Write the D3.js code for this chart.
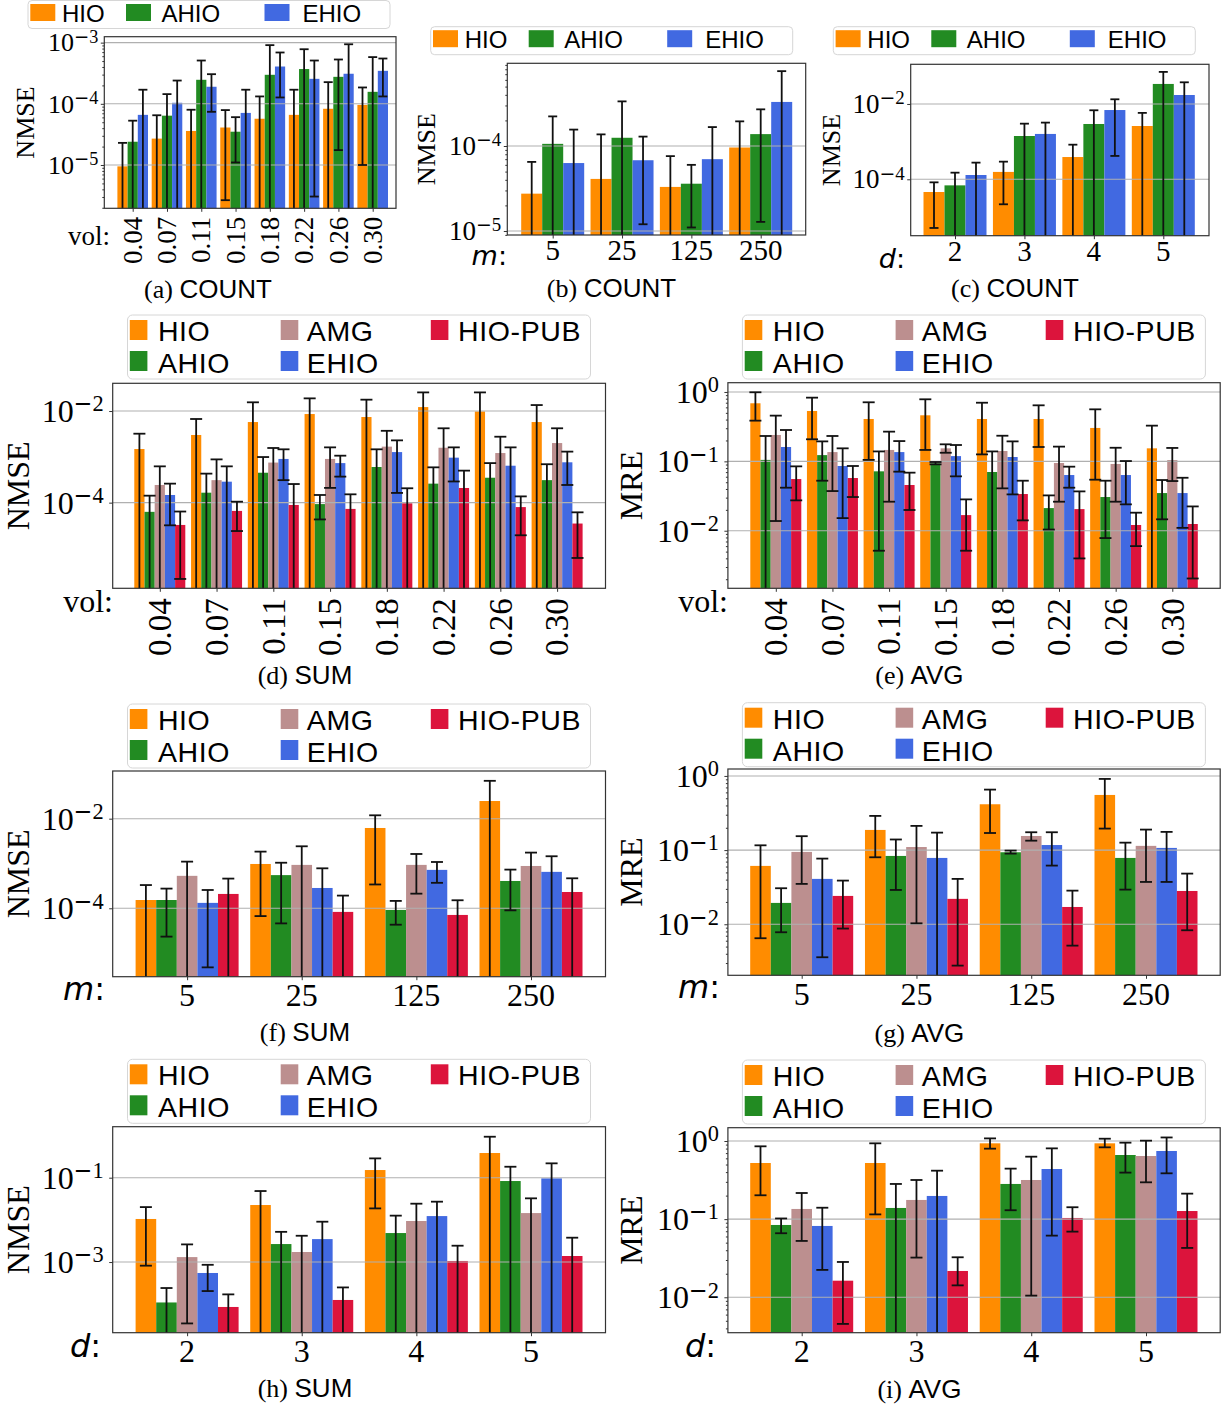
<!DOCTYPE html>
<html>
<head>
<meta charset="utf-8">
<script src="https://cdn.jsdelivr.net/npm/d3@7"></script>
<style>
body { margin: 0; background: #fff; }
</style>
</head>
<body>
<div id="chart"></div>
<script>
// categories
var volCats = ["0.04", "0.07", "0.11", "0.15", "0.18", "0.22", "0.26", "0.30"];
var mCats = ["5", "25", "125", "250"];
var dCats = ["2", "3", "4", "5"];
var methods3 = ["HIO", "AHIO", "EHIO"];
var methods5 = ["HIO", "AHIO", "AMG", "EHIO", "HIO-PUB"];

// rows follow the method lists, columns the categories; 0 = error bar runs off the axis
// (a) COUNT, NMSE vs vol
var aMean = [
  [9.5e-6, 2.7e-5, 3.6e-5, 4.1e-5, 5.7e-5, 6.6e-5, 8.3e-5, 9.6e-5],
  [2.4e-5, 6.4e-5, 2.47e-4, 3.5e-5, 2.98e-4, 3.7e-4, 2.76e-4, 1.57e-4],
  [6.6e-5, 1.04e-4, 1.9e-4, 7.1e-5, 4.07e-4, 2.56e-4, 3.1e-4, 3.46e-4]];
var aHigh = [
  [2.3e-5, 6.5e-5, 8e-5, 7.9e-5, 1.32e-4, 1.7e-4, 2.26e-4, 1.85e-4],
  [5.3e-5, 1.44e-4, 5.1e-4, 6.05e-5, 9.1e-4, 7.8e-4, 5.3e-4, 5.8e-4],
  [1.7e-4, 2.4e-4, 3.05e-4, 1.7e-4, 6.9e-4, 5.1e-4, 9.4e-4, 5.5e-4]];
var aLow = [
  [0, 0, 0, 2.66e-6, 0, 0, 0, 1e-5],
  [0, 0, 0, 1.1e-5, 0, 0, 1.75e-5, 0],
  [0, 0, 7.4e-5, 0, 1.27e-4, 3.05e-6, 0, 1.32e-4]];

// (b) COUNT, NMSE vs m
var bMean = [
  [2.75e-5, 4.1e-5, 3.3e-5, 9.6e-5],
  [1.06e-4, 1.25e-4, 3.6e-5, 1.38e-4],
  [6.3e-5, 6.8e-5, 7.0e-5, 3.3e-4]];
var bHigh = [
  [6.5e-5, 1.37e-4, 7.6e-5, 1.95e-4],
  [2.23e-4, 3.35e-4, 6.0e-5, 2.7e-4],
  [1.56e-4, 1.29e-4, 1.67e-4, 7.6e-4]];
var bLow = [
  [0, 0, 0, 0],
  [0, 0, 1.1e-5, 1.28e-5],
  [0, 1.2e-5, 0, 0]];

// (c) COUNT, NMSE vs d
var cMean = [
  [4.6e-5, 1.57e-4, 3.9e-4, 2.6e-3],
  [6.9e-5, 1.41e-3, 2.94e-3, 3.4e-2],
  [1.3e-4, 1.6e-3, 6.9e-3, 1.73e-2]];
var cHigh = [
  [8.3e-5, 2.94e-4, 8.3e-4, 5.8e-3],
  [1.5e-4, 3.0e-3, 6.8e-3, 7.1e-2],
  [2.77e-4, 3.2e-3, 1.33e-2, 3.76e-2]];
var cLow = [
  [5.1e-6, 2.17e-5, 0, 0],
  [0, 0, 0, 0],
  [0, 0, 4.17e-4, 0]];

// (d) SUM, NMSE vs vol
var dMean = [
  [1.48e-3, 3.0e-3, 5.75e-3, 8.6e-3, 7.4e-3, 1.22e-2, 9.8e-3, 5.75e-3],
  [6.3e-5, 1.65e-4, 4.5e-4, 9.3e-5, 6.0e-4, 2.6e-4, 3.5e-4, 3.1e-4],
  [2.43e-4, 3.1e-4, 7.5e-4, 9.0e-4, 1.67e-3, 1.58e-3, 1.21e-3, 2.0e-3],
  [1.47e-4, 2.87e-4, 9.0e-4, 7.3e-4, 1.27e-3, 9.6e-4, 6.4e-4, 7.6e-4],
  [3.26e-5, 6.6e-5, 8.9e-5, 7.3e-5, 9.7e-5, 2.09e-4, 8.0e-5, 3.5e-5]];
var dHigh = [
  [3.2e-3, 6.7e-3, 1.55e-2, 1.89e-2, 1.77e-2, 2.55e-2, 2.55e-2, 1.35e-2],
  [1.42e-4, 4.3e-4, 9.9e-4, 1.47e-4, 1.46e-3, 5.9e-4, 7.3e-4, 6.9e-4],
  [6.2e-4, 8.8e-4, 1.56e-3, 1.61e-3, 3.7e-3, 4.2e-3, 2.75e-3, 4.2e-3],
  [2.6e-4, 6.2e-4, 1.46e-3, 1.06e-3, 2.29e-3, 1.61e-3, 1.61e-3, 1.3e-3],
  [6.4e-5, 1.05e-4, 2.55e-4, 1.52e-4, 2.06e-4, 5.0e-4, 1.37e-4, 6.15e-5]];
var dLow = [
  [0, 0, 0, 0, 0, 0, 0, 0],
  [0, 0, 0, 4.3e-5, 0, 0, 0, 0],
  [0, 0, 0, 2.1e-4, 0, 0, 0, 0],
  [3.2e-5, 0, 3.1e-4, 3.7e-4, 1.63e-4, 2.9e-4, 0, 2.43e-4],
  [2.16e-6, 2.4e-5, 0, 0, 0, 0, 1.94e-5, 6.2e-6]];

// (e) AVG, MRE vs vol
var eMean = [
  [0.687, 0.532, 0.408, 0.461, 0.408, 0.408, 0.303, 0.154],
  [0.105, 0.123, 0.0718, 0.0936, 0.0702, 0.0212, 0.0306, 0.0349],
  [0.24, 0.136, 0.146, 0.154, 0.141, 0.0946, 0.0916, 0.1045],
  [0.161, 0.0857, 0.136, 0.119, 0.1155, 0.0635, 0.0635, 0.0349],
  [0.0556, 0.0575, 0.0456, 0.0168, 0.0338, 0.0205, 0.0121, 0.0125]];
var eHigh = [
  [0.99, 0.828, 0.71, 0.784, 0.70, 0.642, 0.562, 0.327],
  [0.232, 0.194, 0.139, 0.0978, 0.139, 0.0323, 0.0526, 0.0538],
  [0.456, 0.232, 0.268, 0.176, 0.234, 0.163, 0.157, 0.156],
  [0.283, 0.154, 0.196, 0.172, 0.194, 0.0838, 0.101, 0.058],
  [0.0847, 0.0857, 0.0687, 0.0283, 0.0526, 0.0369, 0.0182, 0.0224]];
var eLow = [
  [0.386, 0.208, 0.105, 0.146, 0.126, 0.161, 0.0544, 0],
  [0, 0.0526, 0.00515, 0.0905, 0, 0.0104, 0.00784, 0.0146],
  [0.0138, 0.0373, 0.0262, 0.133, 0.0408, 0.0262, 0.0262, 0.052],
  [0.0417, 0.0152, 0.071, 0.0608, 0.0334, 0.0417, 0.024, 0.011],
  [0.0274, 0.0306, 0.0199, 0.00515, 0.0141, 0.00399, 0.006, 0.00205]];

// (f) SUM, NMSE vs m
var fMean = [
  [1.53e-4, 9.75e-4, 6.2e-3, 2.48e-2],
  [1.53e-4, 5.5e-4, 9.2e-5, 4.07e-4],
  [5.3e-4, 9.3e-4, 9.3e-4, 8.8e-4],
  [1.32e-4, 2.84e-4, 7.2e-4, 6.5e-4],
  [2.09e-4, 8.3e-5, 7.1e-5, 2.31e-4]];
var fHigh = [
  [3.3e-4, 1.84e-3, 1.19e-2, 7.0e-2],
  [2.75e-4, 1.04e-3, 1.46e-4, 7.3e-4],
  [1.1e-3, 2.42e-3, 1.63e-3, 1.75e-3],
  [2.56e-4, 7.8e-4, 1.08e-3, 1.45e-3],
  [4.6e-4, 1.92e-4, 1.51e-4, 4.67e-4]];
var fLow = [
  [0, 6.7e-5, 3.4e-4, 0],
  [2.33e-5, 4.6e-5, 4.3e-5, 9.0e-5],
  [0, 0, 2.12e-4, 0],
  [4.8e-6, 0, 3.7e-4, 0],
  [0, 0, 0, 0]];

// (g) AVG, MRE vs m
var gMean = [
  [0.0612, 0.187, 0.415, 0.554],
  [0.0194, 0.0834, 0.0935, 0.0784],
  [0.0945, 0.11, 0.155, 0.114],
  [0.0409, 0.0784, 0.117, 0.107],
  [0.0241, 0.022, 0.0171, 0.0281]];
var gHigh = [
  [0.116, 0.289, 0.654, 0.911],
  [0.0306, 0.139, 0.0985, 0.126],
  [0.154, 0.212, 0.174, 0.189],
  [0.0768, 0.172, 0.174, 0.176],
  [0.0388, 0.0409, 0.0284, 0.0482]];
var gLow = [
  [0.00648, 0.08, 0.17, 0.195],
  [0.0078, 0.029, 0.0897, 0.0293],
  [0.035, 0.0103, 0.134, 0.0372],
  [0.00359, 0, 0.0618, 0.0372],
  [0.00875, 0.00277, 0.00515, 0.0083]];

// (h) SUM, NMSE vs d
var hMean = [
  [1.05e-2, 2.25e-2, 0.152, 0.385],
  [1.1e-4, 2.67e-3, 4.87e-3, 0.0834],
  [1.31e-3, 1.73e-3, 9.4e-3, 1.45e-2],
  [5.5e-4, 3.5e-3, 1.23e-2, 0.0964],
  [8.6e-5, 1.26e-4, 1.06e-3, 1.39e-3]];
var hHigh = [
  [2.01e-2, 4.83e-2, 0.287, 0.937],
  [2.42e-4, 5.2e-3, 1.26e-2, 0.182],
  [2.62e-3, 4.2e-3, 2.42e-2, 3.24e-2],
  [8.6e-4, 9.05e-3, 2.7e-2, 0.219],
  [1.71e-4, 2.5e-4, 2.44e-3, 3.78e-3]];
var hLow = [
  [8.2e-4, 0, 1.87e-2, 0],
  [0, 0, 0, 0],
  [3.5e-5, 0, 0, 0],
  [2.05e-4, 0, 0, 0],
  [0, 0, 0, 0]];

// (i) AVG, MRE vs d
var iMean = [
  [0.523, 0.523, 0.934, 0.934],
  [0.0842, 0.139, 0.282, 0.662],
  [0.135, 0.176, 0.317, 0.643],
  [0.0818, 0.198, 0.438, 0.745],
  [0.0163, 0.0217, 0.1035, 0.127]];
var iHigh = [
  [0.855, 0.934, 1.08, 1.07],
  [0.102, 0.282, 0.443, 0.952],
  [0.216, 0.317, 0.63, 1.01],
  [0.14, 0.417, 0.805, 1.11],
  [0.0283, 0.0325, 0.142, 0.212]];
var iLow = [
  [0.202, 0.115, 0.798, 0.83],
  [0.066, 0, 0.13, 0.394],
  [0.0526, 0.0322, 0.0105, 0.296],
  [0.0224, 0, 0.0615, 0.386],
  [0.00456, 0.0142, 0.0692, 0.0428]];

var color = d3.scaleOrdinal()
  .domain(methods5)
  .range(["#ff8c00", "#228b22", "#bc8f8f", "#4169e1", "#dc143c"]);

var serif = "'Liberation Serif','Times New Roman',serif";
var sans = "'Liberation Sans',Arial,sans-serif";
var mathSans = "'DejaVu Sans',sans-serif";

// layout of each subplot (pixel boxes)
var small = {tickF: 26, xTickF: 27, nameF: 27, labF: 26, legF: 24, cap: 9, yGap: 6, xGap: 25};
var big = {tickF: 32, xTickF: 32, nameF: 32, labF: 32, legF: 28.5, cap: 12, yGap: 9, xGap: 29.5};

var panels = [
  {tag: "(a)", title: "COUNT", ylab: "NMSE", mean: aMean, low: aLow, high: aHigh, cats: volCats, methods: methods3,
   x0: 104.3, x1: 396, y0: 36.7, y1: 208.3, dom: [1.96e-6, 1.25e-3], ticks: [1e-5, 1e-4, 1e-3], minor: true,
   tx0: 132.7, tx1: 372.7, bw: 10.2, rot: true, rotGap: 8.4, name: "vol:", nameX: 110, nameY: 245,
   ylabX: 25, capX: 208, capY: 298, leg: [28, 0.5], st: small},
  {tag: "(b)", title: "COUNT", ylab: "NMSE", mean: bMean, low: bLow, high: bHigh, cats: mCats, methods: methods3,
   x0: 507.3, x1: 805.7, y0: 63.3, y1: 235, dom: [8.97e-6, 9.4e-4], ticks: [1e-5, 1e-4], minor: true,
   tx0: 552.7, tx1: 760.7, bw: 21, rot: false, name: "m", nameX: 507, nameY: 265,
   ylabX: 426, capX: 611.5, capY: 297, leg: [430.7, 26.7], st: Object.assign({}, small, {xTickF: 29, tickF: 27})},
  {tag: "(c)", title: "COUNT", ylab: "NMSE", mean: cMean, low: cLow, high: cHigh, cats: dCats, methods: methods3,
   x0: 910.7, x1: 1209, y0: 64.3, y1: 235.7, dom: [3.18e-6, 0.113], ticks: [1e-4, 1e-2], minor: false,
   tx0: 955, tx1: 1163.3, bw: 21, rot: false, name: "d", nameX: 905, nameY: 268,
   ylabX: 831, capX: 1015, capY: 297, leg: [833.3, 26.7], st: Object.assign({}, small, {xTickF: 29, tickF: 27})},
  {tag: "(d)", title: "SUM", ylab: "NMSE", mean: dMean, low: dLow, high: dHigh, cats: volCats, methods: methods5,
   x0: 112.7, x1: 605.5, y0: 383.3, y1: 588.3, dom: [1.35e-6, 0.0403], ticks: [1e-4, 1e-2], minor: false,
   tx0: 159.8, tx1: 557.1, bw: 10.2, rot: true, rotGap: 10, name: "vol:", nameX: 113, nameY: 611.7,
   ylabX: 18.5, capX: 305, capY: 684, leg: [127.5, 315], st: Object.assign({}, big, {xTickF: 33})},
  {tag: "(e)", title: "AVG", ylab: "MRE", mean: eMean, low: eLow, high: eHigh, cats: volCats, methods: methods5,
   x0: 727.9, x1: 1220.2, y0: 382.7, y1: 588.3, dom: [1.48e-3, 1.36], ticks: [1e-2, 1e-1, 1], minor: true,
   tx0: 775.8, tx1: 1172.3, bw: 10.2, rot: true, rotGap: 10, name: "vol:", nameX: 728, nameY: 611.7,
   ylabX: 631.7, capX: 919.4, capY: 684, leg: [742.4, 315], st: Object.assign({}, big, {xTickF: 33})},
  {tag: "(f)", title: "SUM", ylab: "NMSE", mean: fMean, low: fLow, high: fHigh, cats: mCats, methods: methods5,
   x0: 112.7, x1: 605.5, y0: 771, y1: 976.7, dom: [2.97e-6, 0.116], ticks: [1e-4, 1e-2], minor: false,
   tx0: 187.1, tx1: 531, bw: 20.6, rot: false, name: "m", nameX: 105, nameY: 1000,
   ylabX: 18.5, capX: 305, capY: 1040.7, leg: [127.5, 704], st: big},
  {tag: "(g)", title: "AVG", ylab: "MRE", mean: gMean, low: gLow, high: gHigh, cats: mCats, methods: methods5,
   x0: 727.9, x1: 1220.2, y0: 769, y1: 975.3, dom: [2.05e-3, 1.24], ticks: [1e-2, 1e-1, 1], minor: true,
   tx0: 801.7, tx1: 1146, bw: 20.6, rot: false, name: "m", nameX: 720, nameY: 998,
   ylabX: 631.7, capX: 919.4, capY: 1041.7, leg: [742.4, 702.7], st: big},
  {tag: "(h)", title: "SUM", ylab: "NMSE", mean: hMean, low: hLow, high: hHigh, cats: dCats, methods: methods5,
   x0: 112.7, x1: 605.5, y0: 1126.7, y1: 1332.7, dom: [2.11e-5, 1.62], ticks: [1e-3, 1e-1], minor: false,
   tx0: 187.1, tx1: 531, bw: 20.6, rot: false, name: "d", nameX: 101, nameY: 1357,
   ylabX: 18.5, capX: 305, capY: 1396.7, leg: [127.5, 1059.3], st: big},
  {tag: "(i)", title: "AVG", ylab: "MRE", mean: iMean, low: iLow, high: iHigh, cats: dCats, methods: methods5,
   x0: 727.9, x1: 1220.2, y0: 1127.7, y1: 1332.7, dom: [3.52e-3, 1.48], ticks: [1e-2, 1e-1, 1], minor: true,
   tx0: 801.7, tx1: 1146, bw: 20.6, rot: false, name: "d", nameX: 716, nameY: 1357,
   ylabX: 631.7, capX: 919.4, capY: 1398, leg: [742.4, 1060], st: big}
];

var svg = d3.select("#chart").append("svg")
  .attr("width", 1225)
  .attr("height", 1410)
  .style("background", "#fff");

panels.forEach(drawPanel);

// "10" with a raised exponent; the long minus comes from DejaVu Sans like the math minus
function supLabel(sel, v, F) {
  var e = Math.round(Math.log10(v));
  sel.append("tspan").text("10");
  var sup = sel.append("tspan")
    .attr("font-size", F * 0.7)
    .attr("dy", -F * 0.33);
  if (e < 0) {
    sup.append("tspan").attr("font-family", mathSans).text("\u2212");
    sup.append("tspan").text(String(-e));
  } else {
    sup.text(String(e));
  }
}

function drawPanel(p) {
  var st = p.st;
  var g = svg.append("g");
  var x = d3.scalePoint().domain(p.cats).range([p.tx0, p.tx1]);
  var y = d3.scaleLog().domain(p.dom).range([p.y1, p.y0]).clamp(true);
  var n = p.methods.length;

  // bars
  p.methods.forEach(function(m, i) {
    var off = (i - (n - 1) / 2) * p.bw;
    g.append("g").selectAll("rect")
      .data(p.cats)
      .enter().append("rect")
      .attr("x", function(c) { return x(c) + off - p.bw / 2; })
      .attr("y", function(c, j) { return y(p.mean[i][j]); })
      .attr("width", p.bw)
      .attr("height", function(c, j) { return p.y1 - y(p.mean[i][j]); })
      .attr("fill", color(m));
  });

  // grid lines over the bars, under the error bars
  g.append("g").selectAll("line")
    .data(p.ticks)
    .enter().append("line")
    .attr("x1", p.x0).attr("x2", p.x1)
    .attr("y1", function(t) { return y(t); })
    .attr("y2", function(t) { return y(t); })
    .attr("stroke", "#b0b0b0")
    .attr("stroke-width", 1.1);

  // error bars
  p.methods.forEach(function(m, i) {
    var off = (i - (n - 1) / 2) * p.bw;
    var eg = g.append("g").attr("stroke", "#111").attr("stroke-width", 1.8);
    p.cats.forEach(function(c, j) {
      var cx = x(c) + off;
      var lo = p.low[i][j], hi = p.high[i][j];
      var yl = lo > p.dom[0] ? y(lo) : p.y1;
      var yh = y(hi);
      eg.append("line").attr("x1", cx).attr("x2", cx).attr("y1", yl).attr("y2", yh);
      eg.append("line").attr("x1", cx - st.cap / 2).attr("x2", cx + st.cap / 2).attr("y1", yh).attr("y2", yh);
      if (lo > p.dom[0]) {
        eg.append("line").attr("x1", cx - st.cap / 2).attr("x2", cx + st.cap / 2).attr("y1", yl).attr("y2", yl);
      }
    });
  });

  // axis ticks
  var yAxis = g.append("g").attr("transform", "translate(" + p.x0 + ",0)")
    .call(d3.axisLeft(y).tickValues(p.ticks).tickSize(3.5).tickFormat(""));
  yAxis.select(".domain").remove();
  if (p.minor) {
    var minors = [];
    var k0 = Math.floor(Math.log10(p.dom[0])), k1 = Math.ceil(Math.log10(p.dom[1]));
    for (var k = k0; k <= k1; k++) {
      for (var s = 2; s <= 9; s++) {
        var v = s * Math.pow(10, k);
        if (v > p.dom[0] && v < p.dom[1]) minors.push(v);
      }
    }
    var mAxis = g.append("g").attr("transform", "translate(" + p.x0 + ",0)")
      .call(d3.axisLeft(y).tickValues(minors).tickSize(2).tickFormat(""));
    mAxis.select(".domain").remove();
  }
  var xAxis = g.append("g").attr("transform", "translate(0," + p.y1 + ")")
    .call(d3.axisBottom(x).tickSize(3.5).tickFormat(""));
  xAxis.select(".domain").remove();
  g.selectAll(".tick line").attr("stroke", "#333").attr("stroke-width", 1);

  // frame
  g.append("rect")
    .attr("x", p.x0).attr("y", p.y0)
    .attr("width", p.x1 - p.x0).attr("height", p.y1 - p.y0)
    .attr("fill", "none").attr("stroke", "#333").attr("stroke-width", 1.2);

  // y tick labels
  p.ticks.forEach(function(t) {
    var tx = g.append("text")
      .attr("x", p.x0 - st.yGap)
      .attr("y", y(t) + st.tickF * 0.34)
      .attr("text-anchor", "end")
      .attr("font-family", serif)
      .attr("font-size", st.tickF)
      .attr("fill", "#000");
    supLabel(tx, t, st.tickF);
  });

  // x tick labels
  p.cats.forEach(function(c) {
    if (p.rot) {
      g.append("text")
        .attr("transform", "translate(" + x(c) + "," + (p.y1 + p.rotGap) + ") rotate(-90)")
        .attr("dy", "0.34em")
        .attr("text-anchor", "end")
        .attr("font-family", serif)
        .attr("font-size", st.xTickF)
        .text(c);
    } else {
      g.append("text")
        .attr("x", x(c))
        .attr("y", p.y1 + st.xGap)
        .attr("text-anchor", "middle")
        .attr("font-family", serif)
        .attr("font-size", st.xTickF)
        .text(c);
    }
  });

  // category name at the left of the tick labels
  var nm = g.append("text")
    .attr("x", p.nameX).attr("y", p.nameY)
    .attr("text-anchor", "end")
    .attr("font-size", st.nameF);
  if (p.name === "vol:") {
    nm.attr("font-family", serif).text("vol:");
  } else {
    nm.attr("font-family", mathSans);
    nm.append("tspan").attr("font-style", "italic").text(p.name);
    nm.append("tspan").text(":");
  }

  // y label
  g.append("text")
    .attr("transform", "translate(" + p.ylabX + "," + ((p.y0 + p.y1) / 2) + ") rotate(-90)")
    .attr("dy", "0.33em")
    .attr("text-anchor", "middle")
    .attr("font-family", serif)
    .attr("font-size", st.labF)
    .text(p.ylab);

  // caption
  var cap = g.append("text")
    .attr("x", p.capX).attr("y", p.capY)
    .attr("text-anchor", "middle")
    .attr("font-size", 26);
  cap.append("tspan").attr("font-family", serif).text(p.tag + " ");
  cap.append("tspan").attr("font-family", sans).text(p.title);

  drawLegend(p);
}

function drawLegend(p) {
  var st = p.st;
  var lg = svg.append("g").attr("transform", "translate(" + p.leg[0] + "," + p.leg[1] + ")");
  var items;
  if (p.methods.length === 3) {
    lg.append("rect").attr("width", 362).attr("height", 28).attr("rx", 4)
      .attr("fill", "#fff").attr("fill-opacity", 0.8).attr("stroke", "#d6d6d6");
    var sx = [2.3, 98, 236.5], txx = [34, 133.5, 274.5];
    items = p.methods.map(function(m, i) {
      return {m: m, sx: sx[i], sy: 3.5, sw: 25, sh: 17, tx: txx[i], ty: 21};
    });
  } else {
    lg.append("rect").attr("width", 463).attr("height", 64).attr("rx", 5)
      .attr("fill", "#fff").attr("fill-opacity", 0.8).attr("stroke", "#d6d6d6");
    var colX = [2.3, 153.2, 303.3], colT = [30.4, 179.3, 330.6];
    items = p.methods.map(function(m, i) {
      var col = Math.floor(i / 2), row = i % 2;
      return {m: m, sx: colX[col], sy: row ? 36 : 5, sw: 17.6, sh: 20, tx: colT[col], ty: row ? 58 : 26};
    });
  }
  lg.selectAll("rect.sw").data(items).enter().append("rect")
    .attr("class", "sw")
    .attr("x", function(d) { return d.sx; })
    .attr("y", function(d) { return d.sy; })
    .attr("width", function(d) { return d.sw; })
    .attr("height", function(d) { return d.sh; })
    .attr("fill", function(d) { return color(d.m); });
  lg.selectAll("text").data(items).enter().append("text")
    .attr("x", function(d) { return d.tx; })
    .attr("y", function(d) { return d.ty; })
    .attr("font-family", sans)
    .attr("font-size", st.legF)
    .attr("letter-spacing", p.methods.length === 3 ? 0 : 0.6)
    .text(function(d) { return d.m; });
}
</script>
</body>
</html>
